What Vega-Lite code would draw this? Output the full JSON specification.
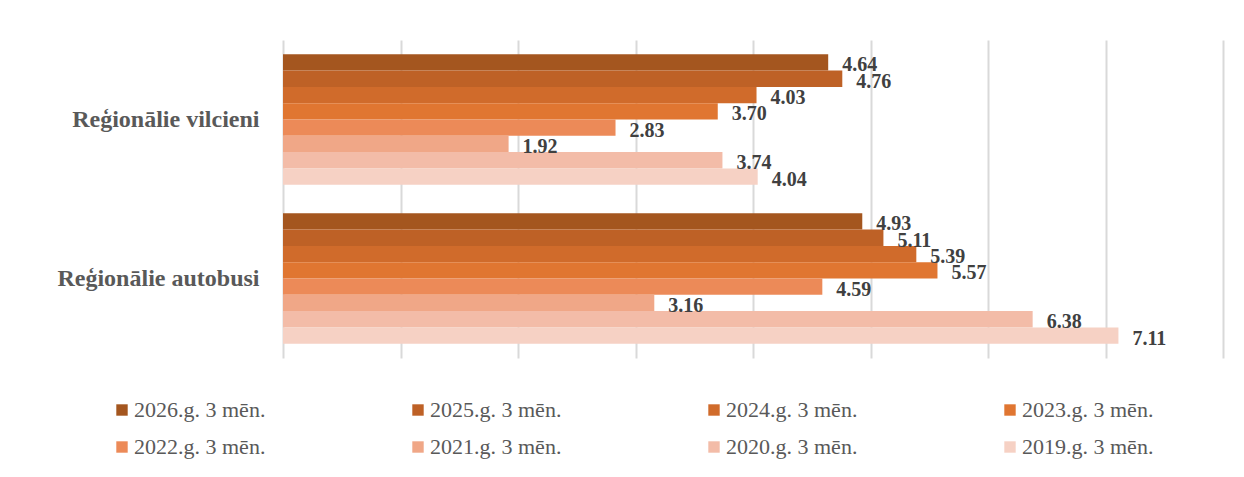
{
  "$schema": "https://vega.github.io/schema/vega-lite/v6.json",
  "width": 940,
  "height": 318,
  "autosize": {"type": "none"},
  "padding": {"left": 283, "top": 40, "right": 21, "bottom": 119},
  "background": "white",
  "data": {
    "values": [
      {"cat": "Reģionālie vilcieni", "year": "2026.g. 3 mēn.", "value": 4.64},
      {"cat": "Reģionālie vilcieni", "year": "2025.g. 3 mēn.", "value": 4.76},
      {"cat": "Reģionālie vilcieni", "year": "2024.g. 3 mēn.", "value": 4.03},
      {"cat": "Reģionālie vilcieni", "year": "2023.g. 3 mēn.", "value": 3.70},
      {"cat": "Reģionālie vilcieni", "year": "2022.g. 3 mēn.", "value": 2.83},
      {"cat": "Reģionālie vilcieni", "year": "2021.g. 3 mēn.", "value": 1.92},
      {"cat": "Reģionālie vilcieni", "year": "2020.g. 3 mēn.", "value": 3.74},
      {"cat": "Reģionālie vilcieni", "year": "2019.g. 3 mēn.", "value": 4.04},
      {"cat": "Reģionālie autobusi", "year": "2026.g. 3 mēn.", "value": 4.93},
      {"cat": "Reģionālie autobusi", "year": "2025.g. 3 mēn.", "value": 5.11},
      {"cat": "Reģionālie autobusi", "year": "2024.g. 3 mēn.", "value": 5.39},
      {"cat": "Reģionālie autobusi", "year": "2023.g. 3 mēn.", "value": 5.57},
      {"cat": "Reģionālie autobusi", "year": "2022.g. 3 mēn.", "value": 4.59},
      {"cat": "Reģionālie autobusi", "year": "2021.g. 3 mēn.", "value": 3.16},
      {"cat": "Reģionālie autobusi", "year": "2020.g. 3 mēn.", "value": 6.38},
      {"cat": "Reģionālie autobusi", "year": "2019.g. 3 mēn.", "value": 7.11}
    ]
  },
  "encoding": {
    "y": {
      "field": "cat",
      "type": "nominal",
      "sort": ["Reģionālie vilcieni", "Reģionālie autobusi"],
      "scale": {"paddingInner": 0.18, "paddingOuter": 0.09},
      "axis": {
        "title": null,
        "ticks": false,
        "domain": false,
        "labelFont": "Liberation Serif",
        "labelFontSize": 24,
        "labelFontWeight": "bold",
        "labelColor": "#595959",
        "labelPadding": 24,
        "labelLimit": 300
      }
    },
    "yOffset": {
      "field": "year",
      "type": "nominal",
      "sort": ["2026.g. 3 mēn.", "2025.g. 3 mēn.", "2024.g. 3 mēn.", "2023.g. 3 mēn.", "2022.g. 3 mēn.", "2021.g. 3 mēn.", "2020.g. 3 mēn.", "2019.g. 3 mēn."],
      "scale": {"paddingInner": 0, "paddingOuter": 0}
    },
    "x": {
      "field": "value",
      "type": "quantitative",
      "scale": {"domain": [0, 8], "nice": false},
      "axis": {
        "title": null,
        "labels": false,
        "ticks": false,
        "domain": false,
        "values": [0, 1, 2, 3, 4, 5, 6, 7, 8],
        "grid": true,
        "gridColor": "#d9d9d9",
        "gridWidth": 2
      }
    }
  },
  "layer": [
    {
      "mark": {"type": "bar"},
      "encoding": {
        "color": {
          "field": "year",
          "type": "nominal",
          "scale": {
            "domain": ["2026.g. 3 mēn.", "2025.g. 3 mēn.", "2024.g. 3 mēn.", "2023.g. 3 mēn.", "2022.g. 3 mēn.", "2021.g. 3 mēn.", "2020.g. 3 mēn.", "2019.g. 3 mēn."],
            "range": ["#A4561F", "#BE6126", "#D06B2B", "#E07631", "#EC8A58", "#F0A787", "#F3BCA8", "#F6D1C4"]
          },
          "legend": {
            "title": null,
            "orient": "none",
            "legendX": -172,
            "legendY": 359,
            "columns": 4,
            "direction": "horizontal",
            "symbolType": "square",
            "symbolSize": 130,
            "symbolStrokeWidth": 0,
            "labelFont": "Liberation Serif",
            "labelFontSize": 22,
            "labelColor": "#595959",
            "labelOffset": 1,
            "columnPadding": 141,
            "rowPadding": 15,
            "labelLimit": 300
          }
        }
      }
    },
    {
      "mark": {
        "type": "text",
        "align": "left",
        "baseline": "middle",
        "dx": 14,
        "dy": 3,
        "font": "Liberation Serif",
        "fontSize": 20,
        "fontWeight": "bold",
        "color": "#404040"
      },
      "encoding": {
        "text": {"field": "value", "type": "quantitative", "format": ".2f"}
      }
    }
  ],
  "config": {"view": {"stroke": null}}
}
